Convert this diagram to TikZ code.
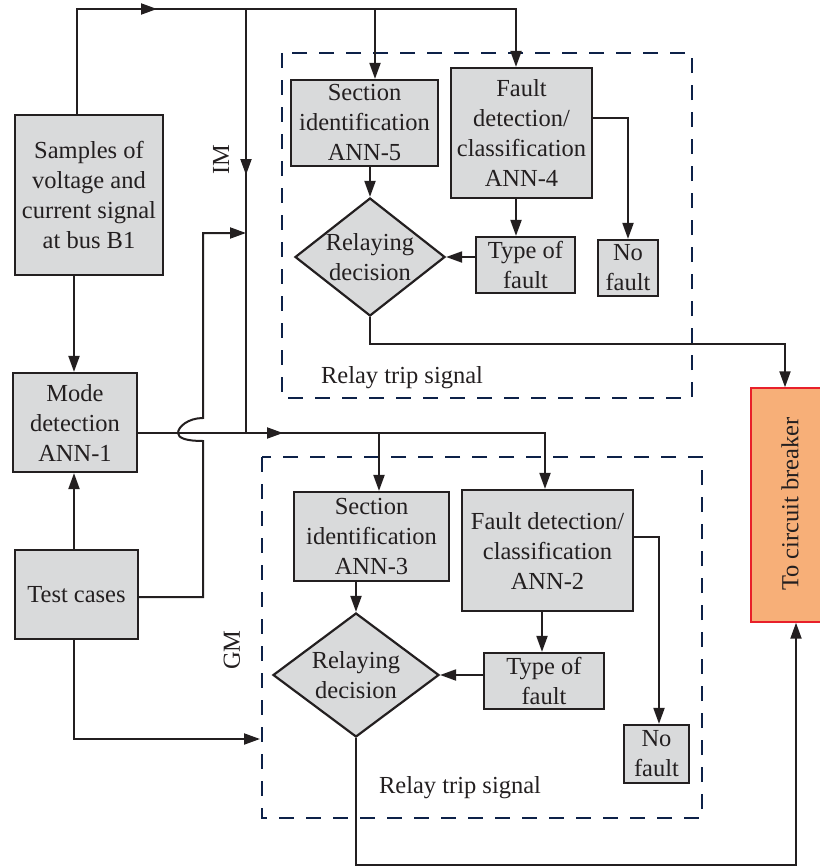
\documentclass[tikz,border=0pt]{standalone}
\usepackage{fontspec}
\setmainfont{Liberation Serif}
\usetikzlibrary{shapes.geometric,arrows.meta,calc}
\definecolor{ink}{HTML}{231F20}
\definecolor{boxfill}{HTML}{D9DADB}
\definecolor{navy}{HTML}{0D2148}
\definecolor{cbfill}{HTML}{F7AF78}
\definecolor{cbred}{HTML}{E8202A}
\begin{document}
\begin{tikzpicture}[x=1pt,y=-1pt,
 every node/.style={font=\rmfamily\fontsize{24.5}{30}\selectfont, text=ink},
 blk/.style={draw=ink, fill=boxfill, line width=2.2pt, align=center, inner sep=0pt},
 dia/.style={diamond, draw=ink, fill=boxfill, line width=2.2pt, inner sep=0pt},
 wire/.style={draw=ink, line width=2pt},
 arr/.style={wire, -{Triangle[length=16pt,width=11pt]}},
 dbox/.style={draw=navy, line width=2.2pt, dash pattern=on 15pt off 12pt},
 lbl/.style={align=center, inner sep=0pt}]
\useasboundingbox (0,0) rectangle (819,867);

% dashed group frames
\draw[dbox] (282,53) rectangle (692,398);
\draw[dbox] (262,457) rectangle (702,818);

% blocks
\node[blk, minimum width=148pt, minimum height=160pt] (samples) at (89,195) {Samples of\\voltage and\\current signal\\at bus B1};
\node[blk, minimum width=124pt, minimum height=99pt] (mode) at (75,422.5) {Mode\\detection\\ANN-1};
\node[blk, minimum width=123pt, minimum height=89pt] (test) at (76.5,594.5) {Test cases};

\node[blk, minimum width=147pt, minimum height=86pt] (ann5) at (364.5,123) {Section\\identification\\ANN-5};
\node[blk, minimum width=141pt, minimum height=130pt] (ann4) at (521.5,133) {Fault\\detection/\\classification\\ANN-4};
\node[blk, minimum width=99pt, minimum height=56pt] (type4) at (525.5,265) {Type of\\fault};
\node[blk, minimum width=60pt, minimum height=56pt] (nof4) at (628,268) {No\\fault};
\node[dia, minimum width=150pt, minimum height=118pt] (dia1) at (370,257) {};
\node[lbl] (dia1t) at (370,257) {Relaying\\decision};

\node[blk, minimum width=155pt, minimum height=89pt] (ann3) at (371.5,536.5) {Section\\identification\\ANN-3};
\node[blk, minimum width=171pt, minimum height=121pt] (ann2) at (547.5,550.5) {Fault detection/\\classification\\ANN-2};
\node[blk, minimum width=120pt, minimum height=56pt] (type2) at (544,681) {Type of\\fault};
\node[blk, minimum width=65pt, minimum height=58pt] (nof2) at (656.5,754) {No\\fault};
\node[dia, minimum width=166pt, minimum height=124pt] (dia2) at (356,675) {};
\node[lbl] (dia2t) at (356,675) {Relaying\\decision};

\node[draw=cbred, fill=cbfill, line width=1.4pt, minimum width=79pt, minimum height=234pt, inner sep=0pt] (cb) at (790.5,505) {};
\node[lbl, rotate=90] (cbt) at (790,504) {To circuit breaker};

% labels
\node[lbl, rotate=90] (imlbl) at (221,160) {IM};
\node[lbl, rotate=90] (gmlbl) at (232,650) {GM};
\node[lbl] (rts1) at (402,378) {Relay trip signal};
\node[lbl] (rts2) at (460,788) {Relay trip signal};

% top bus
\coordinate (tl) at (77,9);
\coordinate (tim) at (246,9);
\coordinate (t5) at (375,9);
\coordinate (tr) at (516,9);
\draw[arr] (samples.north -| tl) -- (tl) -- (tr) -- (tr |- ann4.north);
\draw[arr] (tl) -- (157,9);
\draw[arr] (t5) -- (t5 |- ann5.north);
\coordinate (mj) at (246,433);
\draw[wire] (tim) -- (mj);
\draw[arr] (tim) -- (246,175);

% left column
\coordinate (lx) at (74,300);
\draw[arr] (lx |- samples.south) -- (lx |- mode.north);
\draw[arr] (lx |- test.north) -- (lx |- mode.south);
\coordinate (tb) at (74,739);
\coordinate (tbe) at (260,739);
\draw[arr] (lx |- test.south) -- (tb) -- (tbe);

% test cases -> IM (with jump)
\coordinate (te1) at (203,597);
\coordinate (imin) at (246,233);
\draw[arr] (test.east |- te1) -- (te1) -- (203,441) .. controls (186,441) and (178,438) .. (178,433) .. controls (178,427) and (188,418) .. (203,418) -- (203,233) -- (imin);

% mode output bus
\coordinate (m3) at (379,433);
\coordinate (m2) at (545,433);
\draw[arr] (mode.east |- mj) -- (m2) -- (m2 |- ann2.north);
\draw[arr] (mode.east |- mj) -- (283,433);
\draw[arr] (m3) -- (m3 |- ann3.north);

% upper group
\draw[arr] (dia1.north |- ann5.south) -- (dia1.north);
\draw[arr] (tr |- ann4.south) -- (tr |- type4.north);
\coordinate (n4) at (628,118);
\draw[arr] (ann4.east |- n4) -- (n4) -- (n4 |- nof4.north);
\draw[arr] (type4.west |- dia1.east) -- (dia1.east);
\coordinate (r1) at (370,344);
\coordinate (r2) at (785,344);
\draw[arr] (dia1.south) -- (r1) -- (r2) -- (r2 |- cb.north);

% lower group
\draw[arr] (dia2.north |- ann3.south) -- (dia2.north);
\coordinate (a2) at (542,611);
\draw[arr] (a2 |- ann2.south) -- (a2 |- type2.north);
\coordinate (n2) at (659,537);
\draw[arr] (ann2.east |- n2) -- (n2) -- (n2 |- nof2.north);
\draw[arr] (type2.west |- dia2.east) -- (dia2.east);
\coordinate (q1) at (356,865);
\coordinate (q2) at (796,865);
\draw[arr] (dia2.south) -- (q1) -- (q2) -- (q2 |- cb.south);
\end{tikzpicture}
\end{document}
